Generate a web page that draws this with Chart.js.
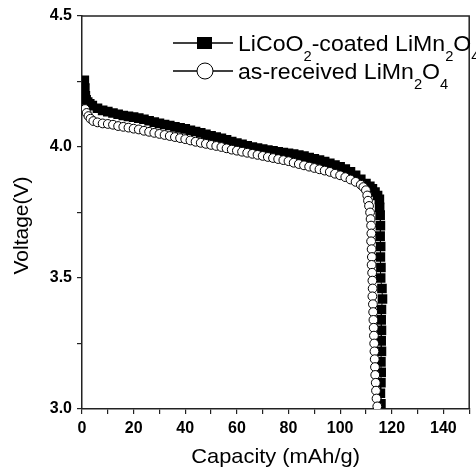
<!DOCTYPE html>
<html>
<head>
<meta charset="utf-8">
<script src="https://cdn.jsdelivr.net/npm/chart.js@4.4.1/dist/chart.umd.min.js"></script>
<style>
html,body{margin:0;padding:0;background:#fff;}
#wrap{width:476px;height:472px;position:relative;}
</style>
</head>
<body>
<div id="wrap"><canvas id="c"></canvas></div>
<script>
// ---- data ----
const capCoated = [0.9,1.1,1.3,1.6,2.2,3,4,6,8,10,12,14,16,18,20,22,24,26,28,30,32,34,36,38,40,42,44,46,48,50,52,54,56,58,60,62,64,66,68,70,72,74,76,78,80,82,84,86,88,90,92,94,96,98,100,102,104,106,108,110,111.5,112.5,113.5,114.5,115.2,
  115.3,115.5,115.6,115.5,115.7,115.6,115.8,115.7,116.2,116.4,116.0,115.9,116.0,115.9,116.0,115.8,115.9,115.8,115.6,115.8];
const voltCoated = [4.255,4.225,4.195,4.18,4.172,4.165,4.158,4.148,4.14,4.135,4.13,4.125,4.12,4.117,4.114,4.11,4.106,4.1,4.095,4.09,4.086,4.082,4.077,4.073,4.069,4.064,4.059,4.054,4.048,4.043,4.038,4.033,4.027,4.021,4.015,4.01,4.005,4.0,3.996,3.992,3.988,3.985,3.982,3.979,3.976,3.973,3.969,3.965,3.96,3.955,3.95,3.944,3.938,3.931,3.924,3.916,3.905,3.892,3.877,3.86,3.85,3.84,3.828,3.815,3.80,
  3.77,3.74,3.70,3.66,3.62,3.58,3.54,3.50,3.46,3.42,3.38,3.34,3.30,3.26,3.22,3.18,3.14,3.10,3.06,3.02];

const capBare = [1.2,1.8,2.5,3.3,4.4,6,8,10,12,14,16,18,20,22,24,26,28,30,32,34,36,38,40,42,44,46,48,50,52,54,56,58,60,62,64,66,68,70,72,74,76,78,80,82,84,86,88,90,92,94,96,98,100,102,104,106,108,109,110,110.5,110.8,111.2,111.6,111.8,
  112.0,112.1,112.0,112.2,112.3,112.2,112.4,112.5,112.6,112.5,112.7,112.8,112.9,113.0,113.1,113.2,113.3,113.4,113.5,113.6,113.8,113.9,114.1,114.4];
const voltBare = [4.145,4.13,4.118,4.108,4.099,4.094,4.09,4.088,4.085,4.08,4.077,4.074,4.07,4.067,4.062,4.058,4.054,4.05,4.046,4.042,4.038,4.034,4.03,4.025,4.02,4.016,4.012,4.008,4.004,4.0,3.995,3.99,3.986,3.982,3.978,3.974,3.97,3.966,3.962,3.958,3.954,3.95,3.946,3.94,3.935,3.93,3.925,3.92,3.915,3.91,3.905,3.898,3.892,3.885,3.876,3.867,3.856,3.847,3.835,3.815,3.795,3.775,3.75,3.725,
  3.70,3.67,3.64,3.61,3.58,3.55,3.52,3.49,3.46,3.43,3.40,3.37,3.34,3.31,3.28,3.25,3.22,3.19,3.16,3.13,3.10,3.07,3.04,3.01];

const nameCoated = [['LiCoO',0],['2',1],['-coated LiMn',0],['2',1],['O',0],['4',1]];
const nameBare = [['as-received LiMn',0],['2',1],['O',0],['4',1]];
const xTitle = 'Capacity (mAh/g)';
const yTitle = 'Voltage(V)';
const xMin = 0, xMax = 150, xStep = 10, xLabelEvery = 20;
const yMin = 3.0, yMax = 4.5, yStep = 0.25, yLabelEvery = 0.5;

const toPts = (xs, ys) => xs.map((x, i) => ({x: x, y: ys[i]}));

const FONT = "'Liberation Sans', Arial, Helvetica, sans-serif";
Chart.defaults.font.family = FONT;
Chart.defaults.color = '#000';

function drawRich(ctx, parts, x, y, size, subSize, subDrop) {
  let cx = x;
  for (const [t, sub] of parts) {
    ctx.font = (sub ? subSize : size) + 'px ' + FONT;
    ctx.fillText(t, cx, sub ? y + subDrop : y);
    cx += ctx.measureText(t).width;
  }
}

const extras = {
  id: 'extras',
  beforeDatasetsDraw(chart) {
    const {ctx, chartArea: a} = chart;
    ctx.save();
    ctx.strokeStyle = '#222';
    ctx.lineWidth = 1.5;
    ctx.beginPath();
    ctx.moveTo(a.left, a.top);
    ctx.lineTo(a.right, a.top);
    ctx.lineTo(a.right, a.bottom);
    ctx.stroke();
    ctx.restore();
  },
  afterDraw(chart) {
    const {ctx, chartArea: a} = chart;
    ctx.save();
    ctx.fillStyle = '#000';
    ctx.textBaseline = 'alphabetic';
    // legend
    const rows = [
      {y: 43, name: nameCoated, kind: 'square'},
      {y: 71, name: nameBare, kind: 'circle'}
    ];
    for (const r of rows) {
      ctx.strokeStyle = '#000';
      ctx.lineWidth = 1.5;
      ctx.beginPath();
      ctx.moveTo(173, r.y); ctx.lineTo(233, r.y);
      ctx.stroke();
      if (r.kind === 'square') {
        ctx.fillStyle = '#000';
        ctx.fillRect(197, r.y - 6, 15, 12);
      } else {
        ctx.beginPath();
        ctx.ellipse(205, r.y, 8, 8, 0, 0, Math.PI * 2);
        ctx.fillStyle = '#fff';
        ctx.fill();
        ctx.lineWidth = 1;
        ctx.stroke();
      }
      ctx.fillStyle = '#000';
      ctx.save();
      ctx.translate(238, 0);
      ctx.scale(1.05, 1);
      drawRich(ctx, r.name, 0, r.y + 8, 22, 14, 10);
      ctx.restore();
    }
    // axis titles
    ctx.font = '21px ' + FONT;
    ctx.textAlign = 'center';
    ctx.save();
    ctx.translate((a.left + a.right) / 2, 463);
    ctx.scale(1.04, 1);
    ctx.fillText(xTitle, 0, 0);
    ctx.restore();
    ctx.translate(28, (a.top + a.bottom) / 2 + 13);
    ctx.rotate(-Math.PI / 2);
    ctx.fillText(yTitle, 0, 0);
    ctx.restore();
  }
};

new Chart(document.getElementById('c'), {
  type: 'line',
  data: {
    datasets: [
      {
        label: 'as-received LiMn2O4',
        data: toPts(capBare, voltBare),
        borderColor: '#000', borderWidth: 1,
        pointStyle: 'circle', pointRadius: 4.4,
        pointBackgroundColor: '#fff', pointBorderColor: '#000', pointBorderWidth: 1,
        tension: 0
      },
      {
        label: 'LiCoO2-coated LiMn2O4',
        data: toPts(capCoated, voltCoated),
        borderColor: '#000', borderWidth: 1,
        pointStyle: 'rect', pointRadius: 6.8,
        pointBackgroundColor: '#000', pointBorderColor: '#000', pointBorderWidth: 0,
        tension: 0
      }
    ]
  },
  options: {
    responsive: true,
    maintainAspectRatio: false,
    animation: false,
    devicePixelRatio: 1,
    layout: {padding: {left: 0, right: 0, top: 16, bottom: 0}},
    plugins: {legend: {display: false}, tooltip: {enabled: false}},
    scales: {
      x: {
        type: 'linear', min: xMin, max: xMax,
        afterFit(s) { s.height = 63; s.paddingRight = 3; s.paddingLeft = 0; },
        ticks: {
          stepSize: xStep, autoSkip: false, maxRotation: 0, padding: 5,
          font: {size: 16, weight: 'bold'}, color: '#000',
          callback: v => (Math.round(v) % xLabelEvery === 0 ? String(Math.round(v)) : '')
        },
        grid: {drawOnChartArea: false, drawTicks: true, tickLength: 5, color: '#222', lineWidth: 1.2},
        border: {display: true, color: '#222', width: 1.5}
      },
      y: {
        type: 'linear', min: yMin, max: yMax,
        afterFit(s) { s.width = 82; },
        ticks: {
          stepSize: yStep, autoSkip: false, padding: 5,
          font: {size: 16, weight: 'bold'}, color: '#000',
          callback: v => (Math.abs(v / yLabelEvery - Math.round(v / yLabelEvery)) < 1e-6 ? v.toFixed(1) : '')
        },
        grid: {drawOnChartArea: false, drawTicks: true, tickLength: 5, color: '#222', lineWidth: 1.2},
        border: {display: true, color: '#222', width: 1.5}
      }
    }
  },
  plugins: [extras]
});
</script>
</body>
</html>
